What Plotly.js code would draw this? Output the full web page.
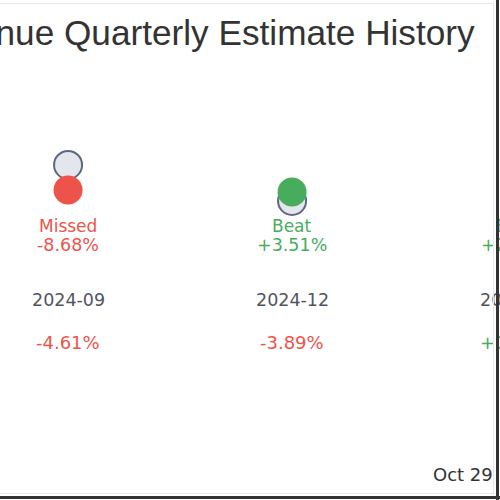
<!DOCTYPE html>
<html>
<head>
<meta charset="utf-8">
<script src="https://cdn.plot.ly/plotly-3.0.1.min.js"></script>
<style>
  html, body { margin: 0; padding: 0; background: #fff; }
  #frame { position: relative; width: 500px; height: 500px; overflow: hidden; }
  /* the chart is wider than the window: the shot is a crop of it */
  #chart { position: absolute; left: -300px; top: 0; width: 1000px; height: 500px; }
  .edge { position: absolute; }
</style>
</head>
<body>
<div id="frame">
  <div id="chart"></div>
  <div class="edge" style="left:0; top:3px; width:494px; height:1px; background:#e6e8ec;"></div>
  <div class="edge" style="left:493px; top:3px; width:1px; height:491px; background:#e6e8ec;"></div>
  <div class="edge" style="left:0; top:493px; width:494px; height:1px; background:#e6e8ec;"></div>
  <div class="edge" style="left:496px; top:0; width:3px; height:500px; background:#333;"></div>
  <div class="edge" style="left:0; top:496px; width:500px; height:3px; background:#333;"></div>
</div>
<script>
// Revenue estimate vs actual, one column per quarter
const quarters = ["2024-09", "2024-12", "2025-03"];
const estimates = [152.0, 133.0, 140.0];
const actuals = [138.8, 137.7, 143.1];
const surprisePct = [-8.68, 3.51, 2.21];
const yoyPct = [-4.61, -3.89, 0.87];
const dateLabel = "Oct 29";

const RED = "#ee534b";
const GREEN = "#47ad5c";
const TITLE_FONT = "Liberation Sans, Arial, sans-serif";
const FONT = "DejaVu Sans, Verdana, sans-serif";

const pct = (v) => (v > 0 ? "+" : "") + v.toFixed(2) + "%";
const tone = (v) => (v >= 0 ? GREEN : RED);

// y given in pixels from the top of the 500px picture
function label(x, xref, yPx, text, size, color, xanchor) {
  return {
    x, xref, xanchor: xanchor || "center",
    y: 1 - yPx / 500, yref: "paper", yanchor: "middle",
    text, showarrow: false,
    font: { family: FONT, size, color },
  };
}

const annotations = [];
quarters.forEach((q, i) => {
  const s = surprisePct[i];
  annotations.push(label(q, "x", 226, s >= 0 ? "Beat" : "Missed", 17, tone(s)));
  annotations.push(label(q, "x", 244.5, pct(s), 17.5, tone(s)));
  annotations.push(label(q, "x", 300, q, 17.5, "#505560"));
  annotations.push(label(q, "x", 342, pct(yoyPct[i]), 18, tone(yoyPct[i])));
});
annotations.push(label(0.731, "paper", 474, dateLabel, 18, "#333", "left"));

Plotly.newPlot(
  "chart",
  [
    {
      type: "scatter", mode: "markers", name: "Estimate",
      x: quarters, y: estimates,
      marker: { size: 28, color: "#e3e7ed", line: { color: "#5f6880", width: 2 } },
    },
    {
      type: "scatter", mode: "markers", name: "Actual",
      x: quarters, y: actuals,
      marker: { size: 29, color: surprisePct.map(tone), line: { width: 0 } },
    },
  ],
  {
    width: 1000, height: 500,
    paper_bgcolor: "#fff", plot_bgcolor: "#fff",
    margin: { t: 0, r: 0, b: 0, l: 0 },
    showlegend: false,
    title: {
      text: "Revenue Quarterly Estimate History",
      font: { family: TITLE_FONT, size: 35.2, color: "#333" },
      x: 0.494, xanchor: "center", y: 0.935, yanchor: "middle",
    },
    xaxis: { type: "category", range: [-1.643, 2.821], visible: false },
    yaxis: { range: [-24.9, 239.1], visible: false },
    annotations,
  },
  { displayModeBar: false, staticPlot: true }
);
</script>
</body>
</html>
